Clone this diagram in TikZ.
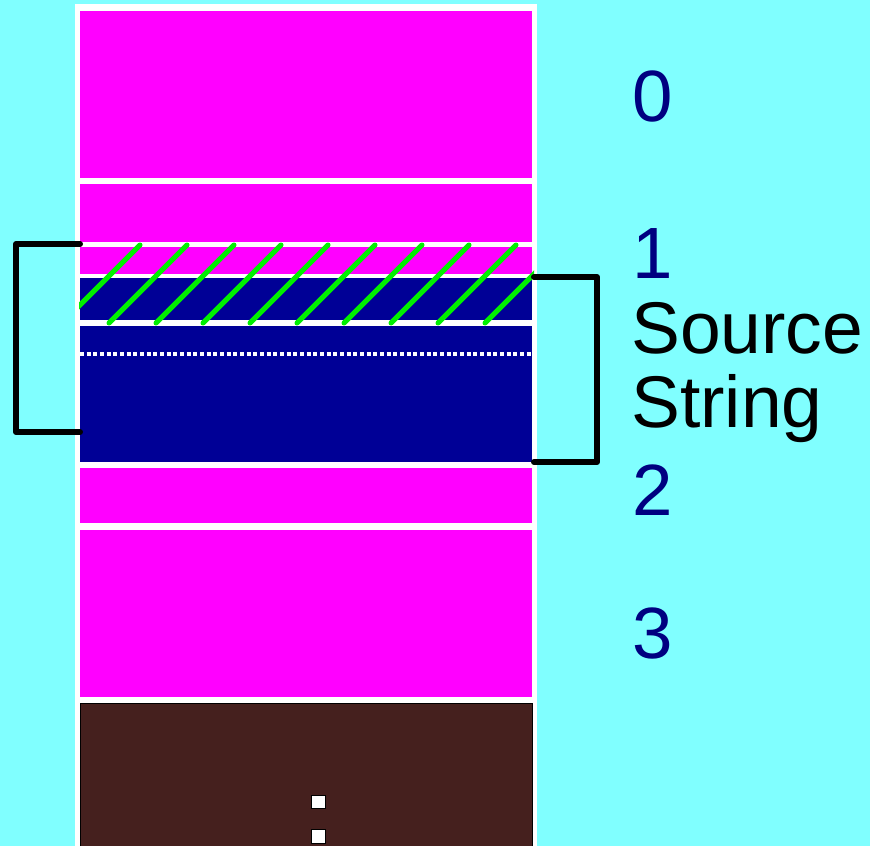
\documentclass[tikz,border=0pt]{standalone}
\usepackage{fontspec}
\setmainfont{Liberation Sans}
\definecolor{MEMcyan}{HTML}{80FFFF}
\definecolor{MEMpink}{HTML}{FF00FF}
\definecolor{MEMnavy}{HTML}{000096}
\definecolor{MEMbrown}{HTML}{45201E}
\definecolor{MEMgreen}{HTML}{00F000}
\definecolor{MEMindex}{HTML}{000080}
\usetikzlibrary{positioning}

\begin{document}
\begin{tikzpicture}[x=0.03cm, y=-0.03cm,
      slotP/.style={fill=MEMpink},
      slotN/.style={fill=MEMnavy},
      idx/.style={anchor=base west, inner sep=0pt, text=MEMindex, font=\fontsize{62}{65}\selectfont},
      caption/.style={anchor=base west, inner sep=0pt, text=black, font=\fontsize{62.5}{65}\selectfont},
      brace/.style={draw=black, line width=0.18cm, line join=round, line cap=round},
      hatch/.style={draw=MEMgreen, line width=0.15cm, line cap=round}]

      % Background and page
      \useasboundingbox[fill=MEMcyan] (0,0) rectangle (870,846);
      \fill[white] (75,4) rectangle (537,846);

      % Memory slots
      \def\xl{80}   % left edge
      \def\xr{532}  % right edge
      \fill[slotP] (\xl,11)  rectangle (\xr,178);
      \fill[slotP] (\xl,184) rectangle (\xr,242);
      \fill[slotP] (\xl,247) rectangle (\xr,274);
      \fill[slotN] (\xl,278) rectangle (\xr,320);
      \fill[slotN] (\xl,326) rectangle (\xr,462);
      \fill[slotP] (\xl,468) rectangle (\xr,523);
      \fill[slotP] (\xl,530) rectangle (\xr,697);
      \filldraw[fill=MEMbrown, draw=black, line width=0.03cm] (\xl,703) rectangle (\xr,850);

      % Dotted divider inside the string
      \draw[white, line width=0.1cm, dash pattern=on 0.12cm off 0.08cm] (\xl,354) -- (\xr,354);

      % Hatched part of the string
      \begin{scope}
        \clip (79,240) rectangle (534,330);
        \foreach \i in {0,...,9}
          \draw[hatch] ({140+47*\i},245) -- ({62+47*\i},323);
      \end{scope}

      % Continuation marks
      \filldraw[fill=white, draw=black, line width=0.03cm] (311,795) rectangle (325,808);
      \filldraw[fill=white, draw=black, line width=0.03cm] (311,829) rectangle (325,843);

      % Brackets
      \coordinate (lTop) at (80,244);
      \coordinate (lBot) at (80,432);
      \coordinate (rTop) at (534,277);
      \coordinate (rBot) at (534,462);
      \draw[brace] (lTop) -| (16,432) -- (lBot);
      \draw[brace] (rTop) -| (597,462) -- (rBot);

      % Slot numbers and caption
      \node[idx] (n0) at (632,122) {0};
      \node[idx] (n1) at (632,278) {1};
      \node[idx] (n2) at (632,515) {2};
      \node[idx] (n3) at (632,658) {3};
      \node[caption] (src) at (631,353) {Source};
      \node[caption] (str) at (631,427) {String};
   \end{tikzpicture}
\end{document}
